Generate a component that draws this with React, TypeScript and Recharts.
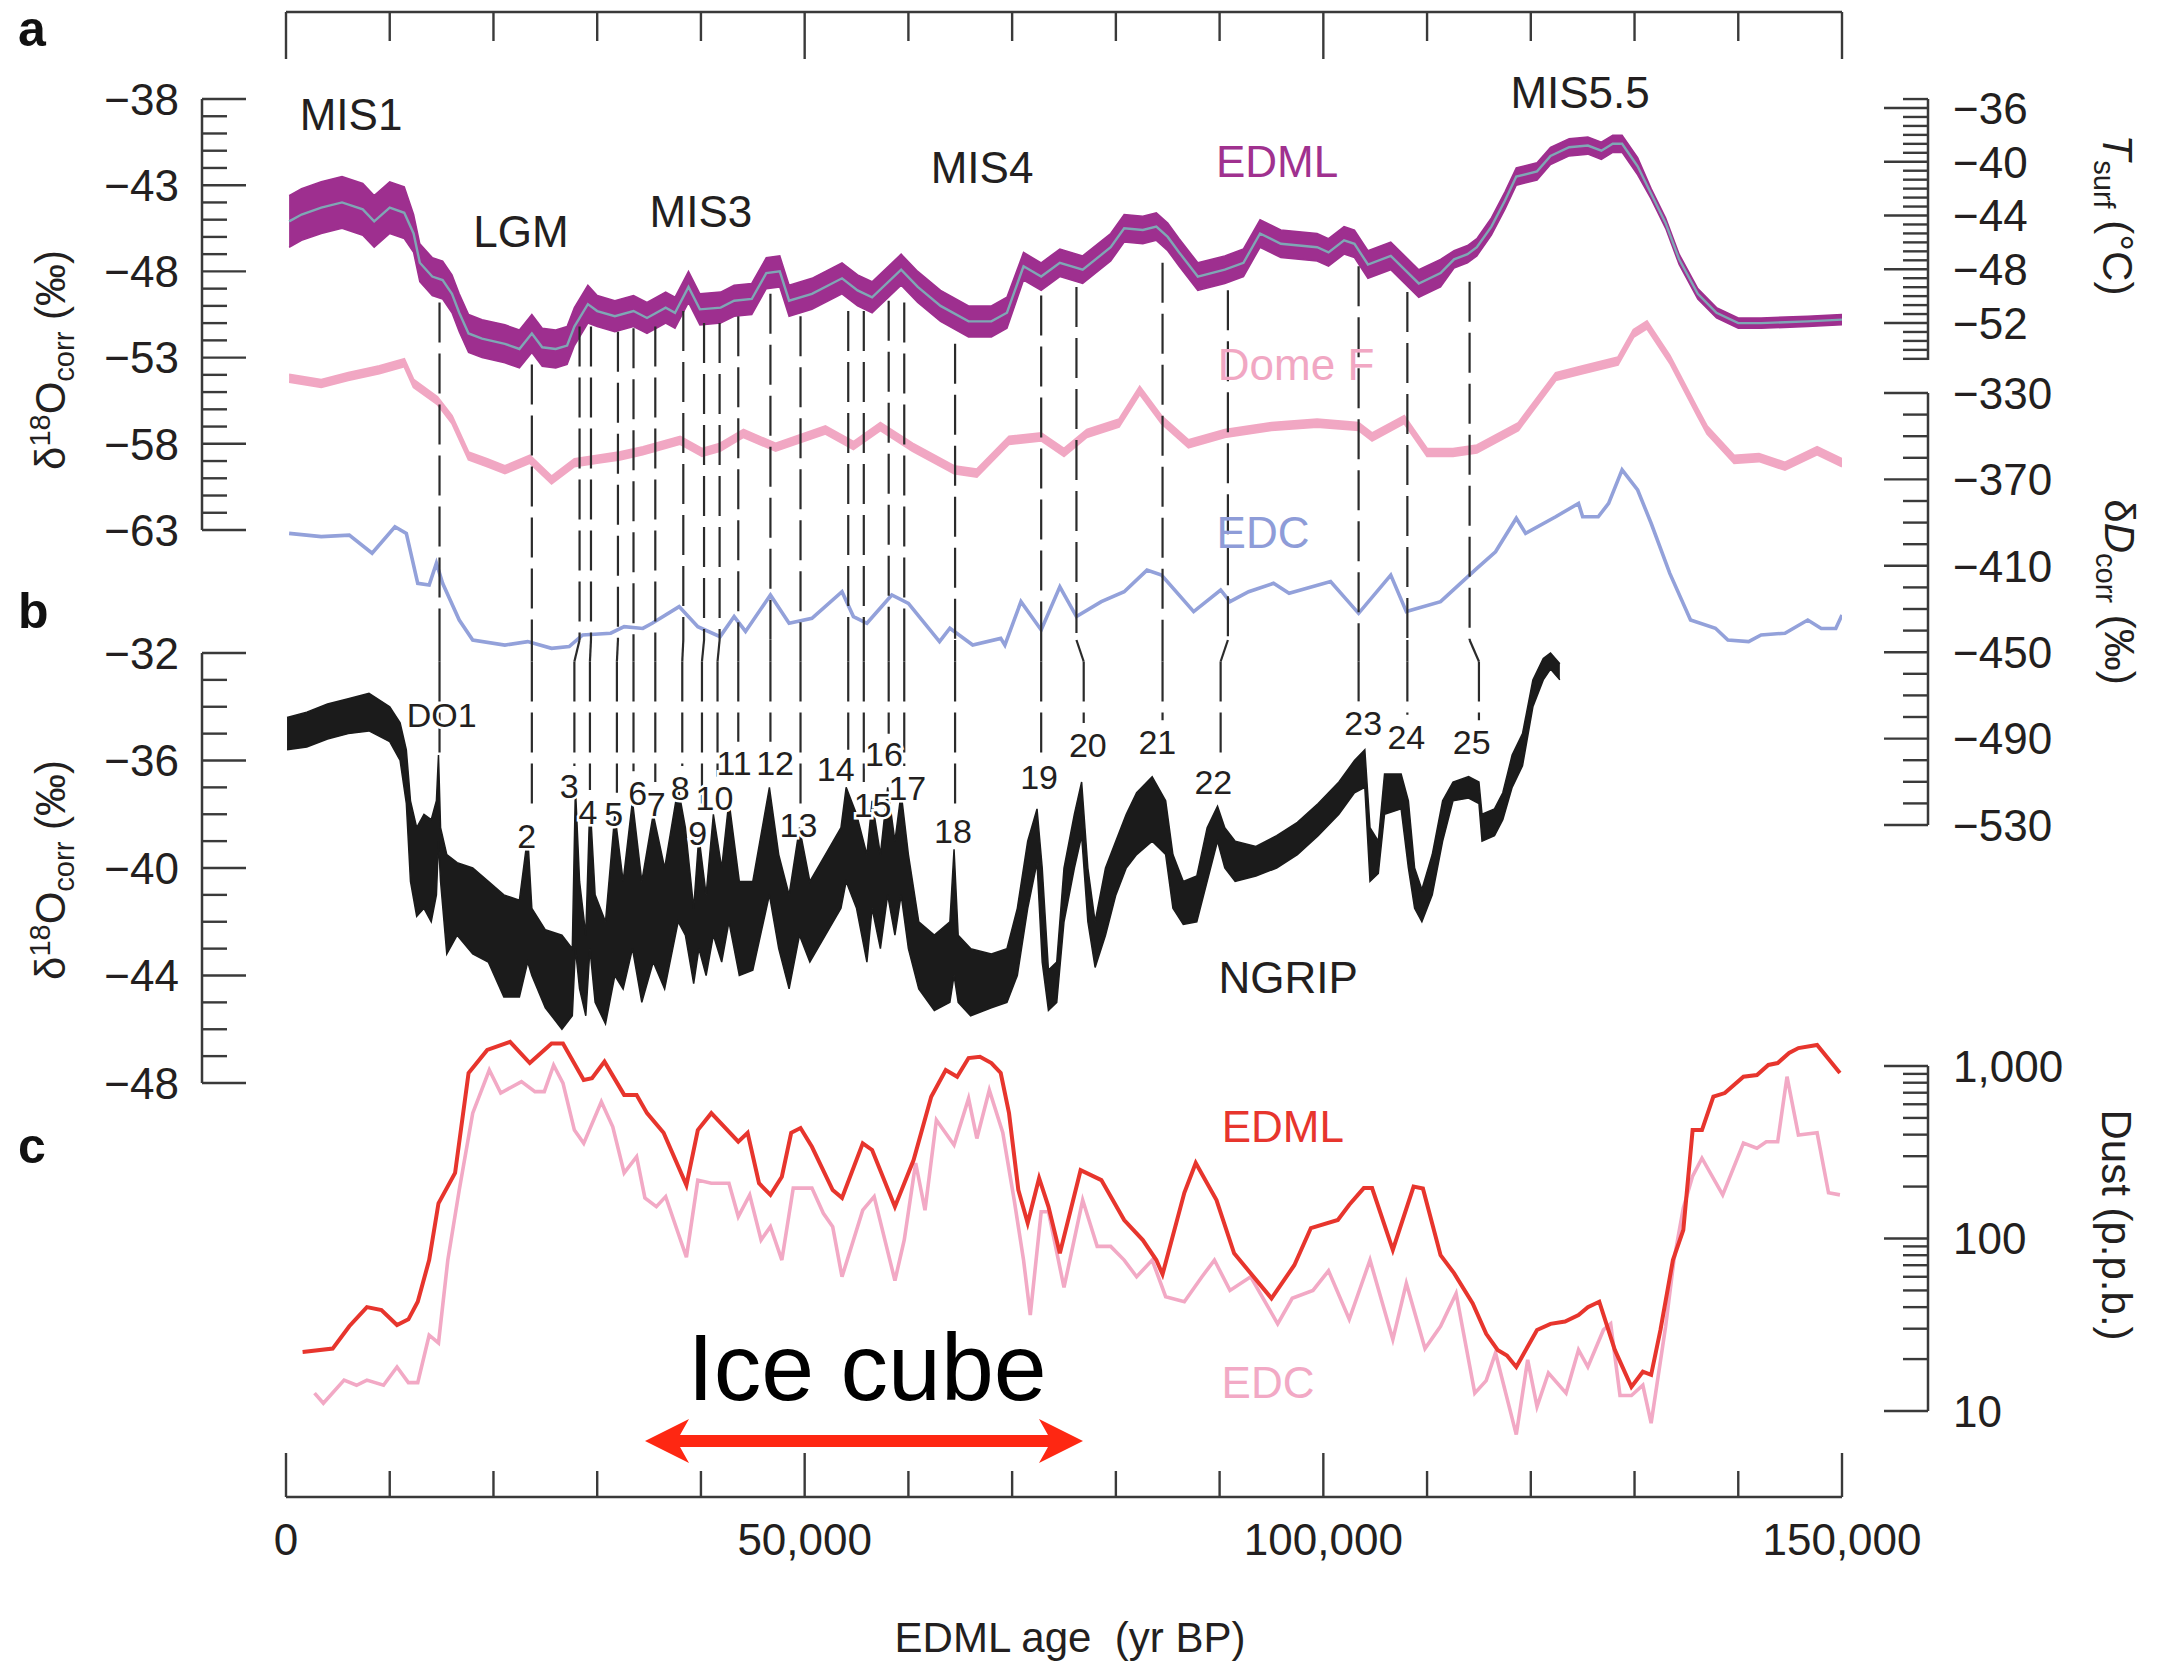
import React from "react";
import {
  ComposedChart, Line, Area, XAxis, YAxis, ReferenceLine, ReferenceDot,
} from "recharts";

const W = 2159;
const H = 1666;
const PLOT = { left: 286, right: 1842, top: 12, bottom: 1497 };
const LEFT_AXIS_X = 202;
const RIGHT_AXIS_X = 1928;
const FONT = '"Liberation Sans", Arial, Helvetica, sans-serif';
const INK = "#231f20";
const AXIS = "#3a3a3a";

const PURPLE = "#9e2f8f";
const TEAL = "#7fa7b5";
const DOME = "#f1a7c3";
const EDC = "#93a1da";
const RED = "#e7352d";
const DUST_EDC = "#f2a9c5";
const BLACK = "#1b1b1b";
const ARROW = "#fe2712";

// ---- x axis (EDML age, yr BP)
const ageTicks = [0, 10000, 20000, 30000, 40000, 50000, 60000, 70000, 80000, 90000, 100000, 110000, 120000, 130000, 140000, 150000];
const ageLabels = [0, 50000, 100000, 150000];

// ---- y axis ticks / labels
const aLabels = [-38, -43, -48, -53, -58, -63];
const bLabels = [-32, -36, -40, -44, -48];
const tsLabels = [-36, -40, -44, -48, -52];
const dDLabels = [-330, -370, -410, -450, -490, -530];
const dustLabels = [10, 100, 1000];
const dustTicks = [10, 20, 30, 40, 50, 60, 70, 80, 90, 100, 200, 300, 400, 500, 600, 700, 800, 900, 1000];

// value <-> page pixel anchors (full size)
const CAL = {
  a: { v1: -38, p1: 99, v2: -63, p2: 530 },
  b: { v1: -32, p1: 653, v2: -48, p2: 1083 },
  dD: { v1: -330, p1: 393, v2: -530, p2: 825 },
  ts: { v1: -36, p1: 108, v2: -52, p2: 323 },
  dust: { v1: 3, p1: 1066, v2: 1, p2: 1411 }, // log10 p.p.b.
};

// ---- EDML d18O (panel a): smoothed centre + noise half-width
const edmlAge = [300, 1500, 3400, 5400, 7400, 8500, 10000, 11400, 12300, 12900, 14100, 15100, 16000, 16700, 17600, 18900, 21100, 22500, 23700, 24700, 26000, 27100, 27800, 29100, 30000, 31700, 33500, 34800, 36600, 37500, 38800, 39900, 41900, 43200, 44900, 46300, 47600, 48500, 50700, 53600, 55100, 56500, 59300, 60900, 63100, 65800, 68000, 69500, 71100, 72800, 74600, 76800, 79500, 80800, 82600, 83900, 85000, 86100, 87900, 90500, 92300, 93900, 95900, 99400, 100500, 102000, 103000, 104300, 106500, 109200, 111300, 112600, 113900, 114800, 116200, 117500, 118600, 120600, 121900, 123700, 125500, 126800, 127900, 128800, 130300, 131600, 133000, 134300, 136100, 137900, 140000, 142200, 146700, 150000];
const edmlMid = [-45.1, -44.7, -44.3, -44.0, -44.4, -45.1, -44.3, -44.6, -45.8, -47.5, -48.3, -48.5, -49.3, -50.4, -51.6, -51.9, -52.2, -52.5, -51.6, -52.4, -52.5, -52.3, -51.2, -49.9, -50.3, -50.6, -50.3, -50.7, -50.1, -50.4, -48.9, -50.2, -50.1, -49.7, -49.6, -48.1, -48.0, -49.7, -49.3, -48.4, -49.1, -49.5, -47.9, -48.9, -50.0, -50.9, -50.9, -50.4, -47.7, -48.3, -47.5, -47.9, -46.6, -45.5, -45.6, -45.4, -46.0, -46.9, -48.3, -47.9, -47.5, -45.8, -46.4, -46.6, -46.9, -46.2, -46.4, -47.6, -47.1, -48.7, -48.1, -47.3, -47.0, -46.6, -45.4, -43.9, -42.5, -42.2, -41.3, -40.8, -40.7, -41.0, -40.6, -40.6, -41.9, -43.5, -45.2, -47.3, -49.3, -50.4, -51.0, -51.0, -50.9, -50.8];
const edmlHalf = [1.5, 1.5, 1.5, 1.5, 1.5, 1.5, 1.5, 1.5, 1.1, 1.1, 1.1, 1.1, 1.1, 1.1, 1.1, 1.1, 1.1, 1.1, 1.1, 1.1, 1.1, 1.1, 1.1, 1.1, 0.9, 0.9, 0.9, 0.9, 0.9, 0.9, 0.9, 0.9, 0.9, 0.9, 0.9, 0.9, 0.9, 0.9, 0.9, 0.9, 0.9, 0.9, 0.9, 0.9, 0.9, 0.9, 0.9, 0.9, 0.8, 0.8, 0.8, 0.8, 0.8, 0.8, 0.8, 0.8, 0.8, 0.8, 0.8, 0.8, 0.8, 0.8, 0.8, 0.8, 0.8, 0.8, 0.8, 0.8, 0.8, 0.8, 0.8, 0.5, 0.5, 0.5, 0.5, 0.5, 0.5, 0.5, 0.5, 0.5, 0.5, 0.5, 0.5, 0.5, 0.5, 0.3, 0.3, 0.3, 0.3, 0.3, 0.3, 0.3, 0.3, 0.3];

// ---- Dome F d18O (panel a, left axis)
const domeAge = [300, 3400, 6000, 9000, 11400, 12300, 14600, 16000, 17600, 19400, 21100, 23500, 25600, 27800, 30000, 32200, 34400, 38000, 40100, 41850, 44100, 47200, 52000, 54700, 57300, 60400, 64400, 66600, 69700, 72800, 75000, 77200, 80300, 82300, 84400, 87000, 90500, 95000, 99400, 103400, 104700, 107800, 110000, 112500, 114800, 118800, 122400, 125000, 128400, 129900, 131200, 133400, 136100, 137000, 139600, 142000, 144500, 147600, 150000];
const domeMid = [-54.2, -54.5, -54.1, -53.7, -53.3, -54.5, -55.5, -56.6, -58.7, -59.1, -59.5, -58.9, -60.1, -59.1, -58.9, -58.7, -58.4, -57.8, -58.5, -58.2, -57.4, -58.2, -57.2, -58.1, -57.0, -58.2, -59.5, -59.7, -57.8, -57.6, -58.5, -57.4, -56.8, -54.9, -56.6, -58.0, -57.4, -57.0, -56.8, -57.0, -57.6, -56.6, -58.5, -58.5, -58.3, -57.0, -54.1, -53.7, -53.2, -51.6, -51.1, -53.1, -56.2, -57.2, -58.9, -58.8, -59.3, -58.4, -59.1];
const DOME_HALF = 0.22;

// ---- EDC dD (panel a, right axis)
const edcAge = [300, 3400, 6100, 8300, 10500, 11600, 12700, 13800, 14500, 15100, 16700, 18000, 21100, 23300, 25600, 27300, 28600, 31300, 32600, 34400, 35300, 37900, 39700, 41850, 43200, 44300, 46700, 48500, 50700, 53600, 54700, 56000, 58400, 60000, 63000, 64000, 66200, 68900, 69300, 70850, 72800, 74600, 76200, 78600, 80800, 83000, 84400, 87500, 90100, 91000, 92800, 95200, 96700, 100700, 103400, 106500, 108000, 111300, 114800, 116600, 118600, 119500, 122400, 124600, 125000, 126500, 127500, 128800, 130300, 131600, 133400, 135400, 137800, 139000, 141000, 142200, 144500, 146700, 148000, 149400, 150000];
const edcDD = [-395.0, -396.5, -395.8, -404.2, -391.9, -395.0, -418.1, -418.9, -408.8, -418.1, -435.1, -444.4, -446.7, -445.1, -448.2, -447.4, -442.0, -441.2, -438.2, -439.0, -436.6, -428.9, -438.2, -442.8, -433.5, -440.4, -423.5, -436.6, -434.3, -422.0, -433.5, -436.6, -423.5, -427.4, -445.1, -438.9, -446.7, -443.6, -446.7, -426.6, -439.7, -419.7, -433.5, -426.6, -422.0, -412.0, -414.3, -431.2, -421.2, -426.6, -422.0, -418.1, -422.7, -417.3, -432.0, -414.3, -431.2, -426.6, -411.2, -403.5, -388.0, -395.0, -387.3, -381.1, -387.3, -387.3, -381.1, -365.6, -374.9, -390.3, -413.5, -435.1, -438.9, -444.4, -445.1, -442.0, -441.2, -435.1, -439.0, -439.0, -432.8];

// ---- NGRIP d18O (panel b): low / high envelope of the noisy record
const ngripAge = [100, 2000, 4000, 6000, 8000, 10000, 11000, 11600, 12000, 12600, 13300, 14000, 14500, 14700, 14900, 15500, 16500, 18000, 19500, 21000, 22500, 23300, 23700, 25000, 26600, 27600, 27900, 28300, 28900, 29300, 29800, 30800, 31700, 32500, 33400, 34300, 35400, 36500, 37800, 38500, 39300, 39800, 40500, 41200, 42000, 42700, 43700, 45000, 46600, 47500, 48500, 49500, 50500, 52000, 53500, 54000, 55000, 56000, 56500, 57300, 58000, 58700, 59300, 60000, 61000, 62500, 64000, 64400, 64800, 66000, 68000, 69500, 70500, 71500, 72400, 72900, 73500, 74300, 75000, 76000, 76700, 77300, 78000, 79000, 80000, 81000, 82000, 83500, 84800, 85500, 86500, 87800, 88800, 89800, 90500, 91500, 93500, 95500, 97500, 99500, 101500, 103000, 104000, 104500, 105300, 105900, 107500, 108200, 108800, 109500, 110500, 111500, 112500, 114000, 115000, 115300, 116500, 117300, 118200, 119200, 120200, 121200, 121900, 122800];
const ngripLo = [-35.6, -35.5, -35.2, -35.0, -34.9, -35.3, -36.0, -37.6, -40.5, -41.8, -41.5, -42.0, -41.0, -39.0, -40.5, -43.2, -42.5, -43.2, -43.5, -44.8, -44.8, -43.5, -44.0, -45.2, -46.0, -45.5, -43.0, -44.5, -45.5, -43.0, -45.0, -45.8, -44.0, -44.5, -43.0, -45.0, -43.5, -44.5, -42.0, -42.5, -44.3, -43.0, -44.0, -42.5, -43.5, -42.0, -44.0, -43.8, -41.0, -43.0, -44.5, -42.5, -43.5, -42.5, -41.5, -40.5, -41.5, -43.5, -41.5, -43.0, -41.0, -42.5, -41.0, -43.0, -44.5, -45.3, -45.0, -44.0, -45.0, -45.5, -45.2, -45.0, -44.0, -41.5, -39.8, -43.5, -45.3, -45.0, -42.0, -40.0, -38.8, -42.0, -43.7, -42.5, -41.0, -40.0, -39.5, -39.0, -39.5, -41.5, -42.1, -42.0, -40.5, -39.0, -40.0, -40.5, -40.3, -40.0, -39.5, -38.8, -38.0, -37.2, -37.0, -40.5, -40.2, -38.0, -37.8, -40.0, -41.5, -42.0, -41.0, -39.0, -37.5, -37.4, -37.6, -39.0, -38.8, -38.2, -37.0, -36.2, -34.0, -33.0, -32.6, -33.0];
const ngripHi = [-34.4, -34.2, -33.9, -33.7, -33.5, -34.0, -34.6, -35.6, -37.5, -38.5, -38.0, -38.2, -37.5, -35.8, -38.5, -39.5, -39.8, -40.0, -40.5, -41.0, -41.2, -38.8, -41.5, -42.3, -42.5, -43.0, -37.0, -40.5, -42.5, -37.5, -41.0, -42.0, -38.0, -40.5, -37.5, -40.5, -38.0, -40.0, -37.0, -38.5, -41.5, -38.8, -41.0, -38.0, -40.0, -37.5, -40.5, -40.5, -37.0, -39.5, -41.0, -38.5, -40.5, -39.5, -38.5, -37.0, -38.0, -39.5, -37.5, -39.5, -37.0, -39.0, -37.2, -39.5, -42.0, -42.5, -42.0, -39.3, -42.5, -43.0, -43.2, -43.0, -41.5, -39.0, -37.8, -40.0, -43.8, -43.5, -40.0, -38.0, -36.8, -40.0, -42.0, -40.0, -39.0, -38.0, -37.2, -36.6, -37.5, -39.5, -40.5, -40.3, -38.5, -37.7, -38.5, -39.0, -39.2, -38.8, -38.3, -37.6, -36.8, -36.0, -35.6, -38.5, -39.0, -36.5, -36.5, -37.5, -40.0, -40.8, -39.5, -37.5, -36.8, -36.6, -36.8, -38.0, -37.8, -37.2, -35.8, -35.0, -33.0, -32.2, -32.0, -32.4];

// ---- dust (panel c, p.p.b., log axis)
const dustEdmlAge = [1600, 4500, 6100, 7800, 9200, 10700, 11800, 12700, 13800, 14700, 16300, 17600, 19400, 21600, 23500, 25600, 26700, 28700, 29500, 30700, 32600, 33800, 34800, 36400, 38600, 39700, 41000, 43600, 44500, 45600, 46700, 47800, 48700, 49600, 50700, 52700, 53600, 55600, 56500, 58700, 60500, 62200, 63600, 64700, 65800, 66900, 68000, 68900, 69700, 70600, 71500, 72600, 73500, 74600, 76600, 78600, 80800, 82600, 83900, 84500, 86600, 87700, 89700, 91400, 95000, 97200, 98800, 101400, 102500, 103900, 104700, 106700, 108700, 109600, 111300, 112600, 114400, 115700, 116800, 117700, 118600, 120600, 121900, 123300, 124600, 125500, 126600, 128100, 129700, 130800, 131600, 132500, 133700, 134700, 135600, 136500, 137600, 138700, 140500, 141800, 142900, 143800, 144900, 145800, 147600, 149800];
const dustEdml = [22, 23, 31, 40, 38.5, 31.5, 34, 43, 75, 160, 240, 910, 1240, 1380, 1040, 1350, 1350, 830, 850, 1060, 680, 680, 533, 410, 204, 425, 533, 364, 410, 209, 179, 228, 410, 437, 340, 191, 172, 356, 326, 153, 285, 664, 948, 867, 1112, 1132, 1040, 911, 533, 191, 123, 224, 153, 82, 249, 218, 128, 98, 75, 62, 184, 274, 167, 82, 45, 70, 115, 128, 157, 196, 196, 86, 200, 195, 80, 63, 42, 28, 22.6, 21, 18, 29.5, 32, 33, 36, 40, 43, 22.6, 13.8, 16.9, 16.2, 29.5, 75, 112, 425, 425, 664, 697, 867, 887, 1014, 1040, 1190, 1270, 1325, 911];
const dustEdcAge = [2750, 3600, 5600, 6800, 7800, 9400, 10700, 11800, 12700, 13800, 14700, 15600, 16700, 18000, 19600, 20700, 22700, 24000, 24900, 25800, 26700, 27800, 28700, 30400, 31500, 32600, 33800, 34600, 35700, 36600, 37700, 38600, 39700, 41000, 42700, 43600, 44700, 45800, 46700, 47800, 48900, 50700, 51800, 52700, 53600, 55600, 56700, 58700, 59600, 60700, 61600, 62700, 64400, 65800, 66600, 67800, 69100, 70200, 71100, 71750, 72800, 73500, 75000, 76800, 78200, 79500, 80800, 82000, 83500, 84800, 86600, 88300, 89500, 91000, 93000, 95600, 97000, 99000, 100500, 102500, 104500, 106700, 108000, 109800, 111300, 112800, 114600, 115700, 116600, 118600, 119700, 120600, 121700, 123400, 124600, 125500, 127000, 127700, 128600, 129700, 130800, 131600, 133000, 133800, 134700, 135600, 136500, 138500, 140500, 141800, 142700, 143800, 144700, 145800, 147600, 148700, 149800];
const dustEdc = [12.7, 11.1, 15.1, 14.1, 15.1, 14.1, 18, 14.6, 14.6, 27.5, 24.8, 75, 191, 533, 948, 697, 812, 710, 710, 1010, 795, 425, 356, 621, 444, 240, 298, 172, 153, 175, 112, 78, 218, 209, 209, 134, 179, 98, 117, 75, 196, 196, 140, 117, 60, 146, 175, 57, 98, 274, 146, 486, 348, 649, 380, 725, 410, 167, 75, 36, 143, 143, 52, 167, 90, 90, 75, 60, 75, 46, 43, 60, 75, 50, 60, 32, 45, 50, 65, 34, 75, 26, 55, 23, 31, 48, 12.7, 15, 21.7, 7.3, 19.8, 10.6, 16.6, 12.7, 22.6, 18, 29.5, 32, 12.3, 12.3, 14.1, 8.5, 31, 75, 150, 230, 292, 179, 357, 334, 364, 364, 867, 398, 410, 184, 179];

// ---- tie points (dashed lines EDML -> NGRIP)
const evName = ["DO1", "2", "3", "4", "5", "6", "7", "8", "9", "10", "11", "12", "13", "14", "15", "16", "17", "18", "19", "20", "21", "22", "23", "24", "25"];
const evAgeTop = [14800, 23700, 28300, 29400, 32000, 33500, 35600, 38300, 40300, 41800, 43600, 46700, 49600, 54200, 55700, 58100, 59600, 64500, 72800, 76200, 84500, 90800, 103400, 108100, 114100];
const evAgeBot = [14800, 23700, 27800, 29300, 31900, 33500, 35600, 38200, 40100, 41600, 43600, 46700, 49600, 54200, 55700, 58100, 59600, 64500, 72800, 76900, 84500, 90100, 103400, 108100, 115000];
const evTop = [-49.8, -53.4, -51.2, -51.2, -51.5, -51.3, -51.2, -50.3, -51.0, -51.0, -50.6, -49.3, -50.6, -50.3, -50.3, -49.7, -49.8, -52.2, -49.4, -48.9, -47.5, -49.1, -47.7, -49.2, -48.6];
const evBot = [-36.0, -38.0, -36.2, -37.1, -37.2, -36.4, -36.8, -36.2, -37.9, -36.6, -35.3, -35.3, -37.6, -35.6, -36.8, -35.0, -36.2, -37.8, -35.8, -34.6, -34.5, -36.0, -33.8, -34.3, -34.5];
const evLabAge = [15000, 23200, 27300, 29100, 31600, 33900, 35700, 38000, 39700, 41300, 43200, 47150, 49400, 53000, 56550, 57650, 59900, 64300, 72600, 77300, 84000, 89400, 103850, 108000, 114300];
const evLabVal = [-34.3, -38.8, -36.95, -37.9, -38.0, -37.2, -37.6, -37.0, -38.7, -37.4, -36.1, -36.1, -38.4, -36.3, -37.65, -35.75, -37.0, -38.6, -36.6, -35.4, -35.3, -36.8, -34.6, -35.1, -35.3];

type Cal = { v1: number; p1: number; v2: number; p2: number };
const valAt = (c: Cal, p: number) => c.v1 + ((p - c.p1) * (c.v2 - c.v1)) / (c.p2 - c.p1);
const span = (c: Cal, top: number, bottom: number): [number, number] => {
  const a = valAt(c, top);
  const b = valAt(c, bottom);
  return [Math.min(a, b), Math.max(a, b)];
};
const logSpan = (c: Cal, top: number, bottom: number): [number, number] => {
  const [a, b] = span(c, top, bottom);
  return [10 ** a, 10 ** b];
};
const range = (from: number, to: number, step: number) => {
  const out: number[] = [];
  for (let v = from; v <= to + 1e-9; v += step) out.push(Math.round(v * 1000) / 1000);
  return out;
};
const fmtNum = (v: number) => (v < 0 ? "\u2212" + Math.abs(v) : v.toLocaleString("en-US"));

// rows for the library
const edmlRows = edmlAge.map((age, i) => ({ age, mid: edmlMid[i], band: [edmlMid[i] - edmlHalf[i], edmlMid[i] + edmlHalf[i]] }));
const domeRows = domeAge.map((age, i) => ({ age, band: [domeMid[i] - DOME_HALF, domeMid[i] + DOME_HALF] }));
const edcRows = edcAge.map((age, i) => ({ age, v: edcDD[i] }));
const ngripRows = ngripAge.map((age, i) => ({ age, band: [ngripLo[i], ngripHi[i]] }));
const dustEdmlRows = dustEdmlAge.map((age, i) => ({ age, v: dustEdml[i] }));
const dustEdcRows = dustEdcAge.map((age, i) => ({ age, v: dustEdc[i] }));

// where the tie lines cross from panel a to panel b
const JUNCTION_PX = 640;
const JA = valAt(CAL.a, JUNCTION_PX);
const JB = valAt(CAL.b, JUNCTION_PX);

type TextMark = { text: string; axis: string; age: number; value: number; color: string; size: number };
const textMarks: TextMark[] = [
  { text: "MIS1", axis: "a", age: 6270, value: -39.8, color: INK, size: 44 },
  { text: "LGM", axis: "a", age: 22650, value: -46.6, color: INK, size: 44 },
  { text: "MIS3", axis: "a", age: 40000, value: -45.4, color: INK, size: 44 },
  { text: "MIS4", axis: "a", age: 67100, value: -42.9, color: INK, size: 44 },
  { text: "EDML", axis: "a", age: 95540, value: -42.5, color: "#a0318f", size: 44 },
  { text: "MIS5.5", axis: "a", age: 124750, value: -38.5, color: INK, size: 44 },
  { text: "Dome F", axis: "a", age: 97370, value: -54.3, color: DOME, size: 44 },
  { text: "EDC", axis: "dD", age: 94190, value: -401.8, color: "#8e9cd8", size: 44 },
  { text: "NGRIP", axis: "b", age: 96600, value: -44.64, color: INK, size: 44 },
  { text: "EDML", axis: "dust", age: 96100, value: 362, color: RED, size: 44 },
  { text: "EDC", axis: "dust", age: 94670, value: 11.9, color: DUST_EDC, size: 44 },
  { text: "Ice cube", axis: "dust", age: 56010, value: 11.6, color: "#000", size: 95 },
];
const ARROW_FROM = 34610;
const ARROW_TO = 76830;
const ARROW_LEVEL = 6.7;

const BottomTick = (props: any) => {
  const { x, payload } = props;
  const v = payload.value as number;
  const major = ageLabels.includes(v);
  return (
    <g>
      <line x1={x} x2={x} y1={PLOT.bottom} y2={PLOT.bottom - (major ? 44 : 26)} stroke={AXIS} strokeWidth={2.4} />
      {major && (
        <text x={x} y={PLOT.bottom + 58} textAnchor="middle" fontSize={44} fill={INK} fontFamily={FONT}>
          {v.toLocaleString("en-US")}
        </text>
      )}
    </g>
  );
};

const TopTick = (props: any) => {
  const { x, payload } = props;
  const major = ageLabels.includes(payload.value);
  return <line x1={x} x2={x} y1={PLOT.top} y2={PLOT.top + (major ? 47 : 29)} stroke={AXIS} strokeWidth={2.4} />;
};

function makeYTick(side: "left" | "right", labels: number[]) {
  const lineX = side === "left" ? LEFT_AXIS_X : RIGHT_AXIS_X;
  const dir = side === "left" ? 1 : -1;
  return (props: any) => {
    const { y, payload } = props;
    const v = payload.value as number;
    const major = labels.some((l) => Math.abs(l - v) < 1e-6);
    return (
      <g>
        <line x1={lineX} x2={lineX + dir * (major ? 44 : 25)} y1={y} y2={y} stroke={AXIS} strokeWidth={2.4} />
        {major && (
          <text
            x={side === "left" ? lineX - 23 : lineX + 25}
            y={y}
            dy="0.36em"
            textAnchor={side === "left" ? "end" : "start"}
            fontSize={44}
            fill={INK}
            fontFamily={FONT}
          >
            {fmtNum(v)}
          </text>
        )}
      </g>
    );
  };
}

type AxisSpec = {
  cal: Cal; side: "left" | "right"; top: number; bottom: number;
  ticks: number[]; labels: number[]; log?: boolean;
};

function AxisChart({ spec }: { spec: AxisSpec }) {
  const { cal, side, top, bottom, ticks, labels, log } = spec;
  const yw = 10;
  const margin = side === "left"
    ? { top, bottom: H - bottom, left: LEFT_AXIS_X - yw, right: 40 }
    : { top, bottom: H - bottom, left: 40, right: W - RIGHT_AXIS_X - yw };
  const dom = log ? logSpan(cal, top, bottom) : span(cal, top, bottom);
  return (
    <div style={{ position: "absolute", left: 0, top: 0 }}>
      <ComposedChart width={W} height={H} margin={margin}>
        <XAxis hide type="number" domain={[0, 1]} allowDataOverflow />
        <YAxis
          orientation={side}
          width={yw}
          type="number"
          scale={log ? "log" : "linear"}
          domain={dom}
          allowDataOverflow
          ticks={ticks}
          interval={0}
          axisLine={{ stroke: AXIS, strokeWidth: 2.5 }}
          tickLine={false}
          tick={makeYTick(side, labels)}
        />
      </ComposedChart>
    </div>
  );
}

const axisSpecs: AxisSpec[] = [
  { cal: CAL.a, side: "left", top: 99, bottom: 530, ticks: range(-63, -38, 1), labels: aLabels },
  { cal: CAL.b, side: "left", top: 653, bottom: 1083, ticks: range(-48, -32, 1), labels: bLabels },
  { cal: CAL.ts, side: "right", top: 99, bottom: 360, ticks: range(-54.667, -35.333, 2 / 3), labels: tsLabels },
  { cal: CAL.dD, side: "right", top: 393, bottom: 825, ticks: range(-530, -330, 10), labels: dDLabels },
  { cal: CAL.dust, side: "right", top: 1066, bottom: 1411, ticks: dustTicks, labels: dustLabels, log: true },
];

const textShape = (t: TextMark) => (p: any) => (
  <text x={p.cx} y={p.cy} textAnchor="middle" fontSize={t.size} fill={t.color} fontFamily={FONT}>
    {t.text}
  </text>
);

const eventShape = (label: string) => (p: any) => (
  <text
    x={p.cx} y={p.cy} dy="0.36em" textAnchor="middle" fontSize={34} fill={INK} fontFamily={FONT}
    stroke="#fff" strokeWidth={5} paintOrder="stroke"
  >
    {label}
  </text>
);

const ArrowShape = (p: any) => {
  const { x1, x2, y1 } = p;
  const y = y1;
  const pts = [
    [x1, y], [x1 + 44, y - 22], [x1 + 35, y - 6], [x2 - 35, y - 6], [x2 - 44, y - 22],
    [x2, y], [x2 - 44, y + 22], [x2 - 35, y + 6], [x1 + 35, y + 6], [x1 + 44, y + 22],
  ].map((q) => q.join(",")).join(" ");
  return <polygon points={pts} fill={ARROW} />;
};

function DataChart() {
  const dash = { stroke: "#2b2b2b", strokeWidth: 2.2, strokeDasharray: "40 11" };
  return (
    <div style={{ position: "absolute", left: 0, top: 0 }}>
      <ComposedChart
        width={W}
        height={H}
        margin={{ top: 0, right: W - PLOT.right, bottom: H - PLOT.bottom - 150, left: PLOT.left }}
      >
        <XAxis
          xAxisId={0} dataKey="age" type="number" domain={[0, 150000]} allowDataOverflow
          ticks={ageTicks} interval={0} height={150}
          axisLine={{ stroke: AXIS, strokeWidth: 2.5 }} tickLine={false} tick={BottomTick}
        />
        <XAxis
          xAxisId="top" orientation="top" dataKey="age" type="number" domain={[0, 150000]} allowDataOverflow
          ticks={ageTicks} interval={0} height={PLOT.top}
          axisLine={{ stroke: AXIS, strokeWidth: 2.5 }} tickLine={false} tick={TopTick}
        />
        <YAxis yAxisId="a" hide width={0} type="number" domain={span(CAL.a, PLOT.top, PLOT.bottom)} allowDataOverflow />
        <YAxis yAxisId="b" hide width={0} type="number" domain={span(CAL.b, PLOT.top, PLOT.bottom)} allowDataOverflow />
        <YAxis yAxisId="dD" hide width={0} type="number" domain={span(CAL.dD, PLOT.top, PLOT.bottom)} allowDataOverflow />
        <YAxis yAxisId="dust" hide width={0} type="number" scale="log" domain={logSpan(CAL.dust, PLOT.top, PLOT.bottom)} allowDataOverflow />

        <Area data={domeRows} dataKey="band" yAxisId="a" type="linear" stroke={DOME} strokeWidth={2} fill={DOME} fillOpacity={1} dot={false} activeDot={false} isAnimationActive={false} />
        <Line data={edcRows} dataKey="v" yAxisId="dD" type="linear" stroke={EDC} strokeWidth={3.6} dot={false} activeDot={false} isAnimationActive={false} />
        <Area data={edmlRows} dataKey="band" yAxisId="a" type="linear" stroke={PURPLE} strokeWidth={1.5} fill={PURPLE} fillOpacity={1} dot={false} activeDot={false} isAnimationActive={false} />
        <Line data={edmlRows} dataKey="mid" yAxisId="a" type="linear" stroke={TEAL} strokeWidth={2.4} dot={false} activeDot={false} isAnimationActive={false} />
        <Area data={ngripRows} dataKey="band" yAxisId="b" type="linear" stroke={BLACK} strokeWidth={1.5} fill={BLACK} fillOpacity={1} dot={false} activeDot={false} isAnimationActive={false} />
        <Line data={dustEdcRows} dataKey="v" yAxisId="dust" type="linear" stroke={DUST_EDC} strokeWidth={3.6} dot={false} activeDot={false} isAnimationActive={false} />
        <Line data={dustEdmlRows} dataKey="v" yAxisId="dust" type="linear" stroke={RED} strokeWidth={4} dot={false} activeDot={false} isAnimationActive={false} />

        {evName.map((n, i) => (
          <ReferenceLine key={"u" + n} yAxisId="a" ifOverflow="visible" {...dash}
            segment={[{ x: evAgeTop[i], y: evTop[i] }, { x: evAgeTop[i], y: JA }]} />
        ))}
        {evName.map((n, i) => (
          <ReferenceLine key={"k" + n} yAxisId="b" ifOverflow="visible" {...dash}
            segment={[{ x: evAgeTop[i], y: JB }, { x: evAgeBot[i], y: JB - 0.8 }]} />
        ))}
        {evName.map((n, i) => (
          <ReferenceLine key={"l" + n} yAxisId="b" ifOverflow="visible" {...dash}
            segment={[{ x: evAgeBot[i], y: JB - 0.8 }, { x: evAgeBot[i], y: evBot[i] }]} />
        ))}
        {evName.map((n, i) => (
          <ReferenceDot key={"t" + n} yAxisId="b" x={evLabAge[i]} y={evLabVal[i]} ifOverflow="visible" shape={eventShape(n)} />
        ))}
        {textMarks.map((t, i) => (
          <ReferenceDot key={"m" + i} yAxisId={t.axis} x={t.age} y={t.value} ifOverflow="visible" shape={textShape(t)} />
        ))}
        <ReferenceLine yAxisId="dust" ifOverflow="visible"
          segment={[{ x: ARROW_FROM, y: ARROW_LEVEL }, { x: ARROW_TO, y: ARROW_LEVEL }]}
          shape={ArrowShape} />
      </ComposedChart>
    </div>
  );
}

function Titles() {
  const small = 29;
  return (
    <svg width={W} height={H} style={{ position: "absolute", left: 0, top: 0, pointerEvents: "none" }} fontFamily={FONT}>
      <text x={18} y={46} fontSize={50} fontWeight="bold" fill="#111">a</text>
      <text x={18} y={628} fontSize={50} fontWeight="bold" fill="#111">b</text>
      <text x={18} y={1163} fontSize={50} fontWeight="bold" fill="#111">c</text>

      {[360, 870].map((cy) => (
        <text key={cy} transform={`rotate(-90 50 ${cy})`} x={50} y={cy} dy="0.36em" textAnchor="middle" fontSize={42} fill={INK}>
          δ<tspan fontSize={small} dy={-15}>18</tspan><tspan dy={15}>O</tspan>
          <tspan fontSize={small} dy={9}>corr</tspan><tspan dy={-9}>{" (‰)"}</tspan>
        </text>
      ))}

      <text transform="rotate(90 2118 215)" x={2118} y={215} dy="0.36em" textAnchor="middle" fontSize={42} fill={INK}>
        <tspan fontStyle="italic">T</tspan><tspan fontSize={small} dy={9}>surf</tspan><tspan dy={-9}>{" (°C)"}</tspan>
      </text>
      <text transform="rotate(90 2120 592)" x={2120} y={592} dy="0.36em" textAnchor="middle" fontSize={42} fill={INK}>
        δ<tspan fontStyle="italic">D</tspan><tspan fontSize={small} dy={9}>corr</tspan><tspan dy={-9}>{" (‰)"}</tspan>
      </text>
      <text transform="rotate(90 2117 1225)" x={2117} y={1225} dy="0.36em" textAnchor="middle" fontSize={42} fill={INK}>
        Dust (p.p.b.)
      </text>

      <text x={(PLOT.left + PLOT.right) / 2 + 6} y={1652} textAnchor="middle" fontSize={42} fill={INK} style={{ whiteSpace: "pre" }}>
        {"EDML age  (yr BP)"}
      </text>
    </svg>
  );
}

export default function App() {
  return (
    <div style={{ position: "absolute", left: 0, top: 0, width: W, height: H, background: "#fff", overflow: "hidden" }}>
      {axisSpecs.map((s, i) => (
        <AxisChart key={i} spec={s} />
      ))}
      <DataChart />
      <Titles />
    </div>
  );
}
